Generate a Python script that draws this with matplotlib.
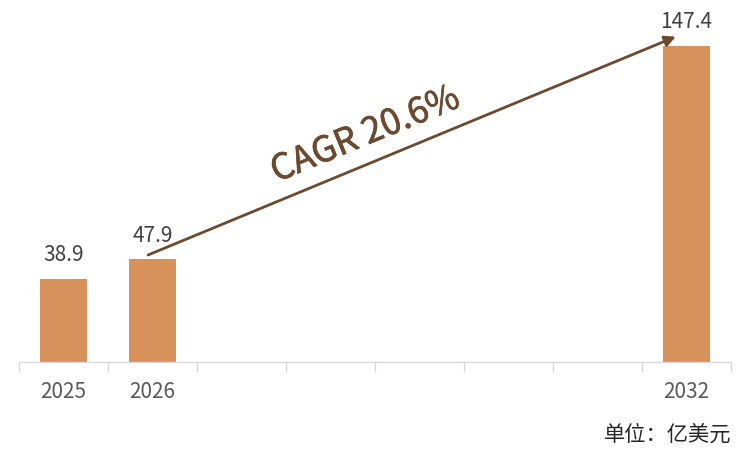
import numpy as np
import matplotlib
matplotlib.use('Agg')
import matplotlib.pyplot as plt
import matplotlib.patheffects as pe

plt.rcParams['font.family'] = ['Noto Sans CJK SC', 'DejaVu Sans']

years = ['2025', '2026', '', '', '', '', '', '2032']
values = [38.9, 47.9, np.nan, np.nan, np.nan, np.nan, np.nan, 147.4]
cagr_text = 'CAGR 20.6%'
unit_text = '单位：亿美元'

bar_color = '#D6925A'
arrow_color = '#6B4A2F'

fig = plt.figure(figsize=(7.5, 4.61), dpi=100)
ax = fig.add_axes([19 / 750, 99 / 461, 712 / 750, 362 / 461])

x = np.arange(len(years))
heights = np.nan_to_num(values)
ax.bar(x, heights, width=0.53, color=bar_color)

for xi, v in zip(x, values):
    if not np.isnan(v):
        ax.annotate(f'{v:.1f}', (xi, v), xytext=(0, 9), textcoords='offset points',
                    ha='center', va='bottom', fontsize=15, color='#404040')

ax.set_xlim(-0.5, len(years) - 0.5)
ax.set_ylim(0, 168.8)

# arrow from 2026 bar to 2032 bar
ax.annotate('', xy=(7 - 0.12, values[7] + 4.3), xytext=(1 - 0.05, values[1] + 2),
            arrowprops=dict(arrowstyle='-|>', color=arrow_color, lw=2,
                            mutation_scale=16, shrinkA=0, shrinkB=0))
ax.text(3.39, 105.9, cagr_text, rotation=22.4, rotation_mode='anchor',
        ha='center', va='center', fontsize=25.5, color=arrow_color,
        path_effects=[pe.withStroke(linewidth=0.5, foreground=arrow_color)])

ax.set_xticks(x)
ax.set_xticklabels(years, fontsize=15, color='#595959')
ax.set_xticks(np.arange(len(years) + 1) - 0.5, minor=True)
ax.tick_params(axis='x', which='major', length=0, pad=14)
ax.tick_params(axis='x', which='minor', length=7, color='#D9D9D9', width=1)
ax.set_yticks([])

for s in ['top', 'right', 'left']:
    ax.spines[s].set_visible(False)
ax.spines['bottom'].set_color('#D9D9D9')
ax.spines['bottom'].set_linewidth(1)

fig.text(731 / 750, 1 - 435 / 461, unit_text, ha='right', va='center',
         fontsize=15.3, color='#262626')

fig.savefig('out.png', dpi=100)
